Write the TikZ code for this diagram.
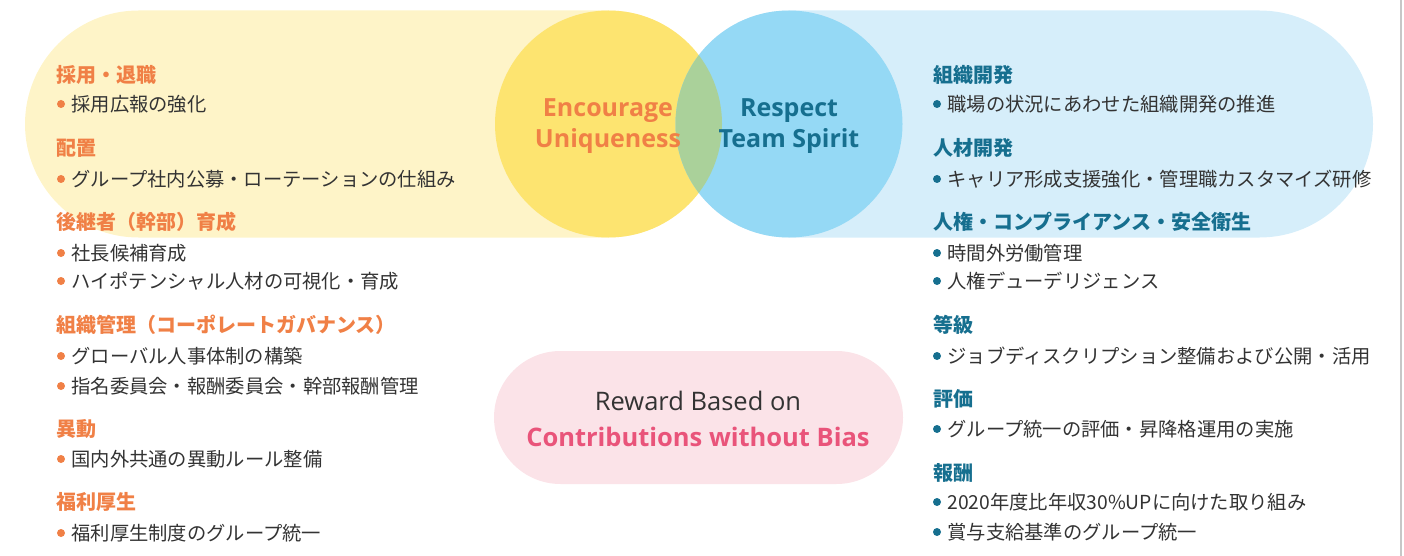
\documentclass[tikz,border=0pt]{standalone}
\usepackage{fontspec}
\setmainfont{Noto Sans CJK JP}
\newfontfamily\opensans{Open Sans}
\usepackage{xcolor}
\definecolor{paleyellow}{RGB}{254,244,200}
\definecolor{sunyellow}{RGB}{253,228,112}
\definecolor{paleblue}{RGB}{214,238,250}
\definecolor{skyblue}{RGB}{149,217,245}
\definecolor{mixgreen}{RGB}{170,209,154}
\definecolor{palepink}{RGB}{251,227,232}
\definecolor{neworange}{RGB}{240,128,70}
\definecolor{newblue}{RGB}{22,111,143}
\definecolor{newpink}{RGB}{233,84,122}
\definecolor{textgray}{RGB}{51,51,51}

\begin{document}
\begin{tikzpicture}[x=1pt, y=-1pt,
  head/.style={anchor=west, inner sep=0pt, text height=17.6pt, text depth=2.4pt, font=\fontsize{20}{24}\selectfont\bfseries},
  item/.style={anchor=west, inner sep=0pt, text height=17.2pt, text depth=2.4pt, font=\fontsize{19.3}{23}\selectfont, text=textgray},
  dot/.style={fill, circle, inner sep=0pt, minimum size=8pt},
  motto/.style={anchor=base, inner sep=0pt, font=\fontsize{25}{31}\selectfont\opensans\bfseries},
  reward/.style={anchor=base, inner sep=0pt, font=\fontsize{25.5}{36}\selectfont\opensans}]

\useasboundingbox (0,0) rectangle (1404,556);

%pills
\fill[paleyellow, rounded corners=113.5pt] (25,10.5) rectangle (722,237.5);
\fill[paleblue, rounded corners=113.5pt] (675.5,10.5) rectangle (1373,237.5);
\fill[palepink, rounded corners=66.5pt] (494,351) rectangle (903,484);

%circles
\fill[sunyellow] (608.5,124) circle (113.5pt);
\fill[skyblue] (789,124) circle (113.5pt);
\begin{scope}
\clip (608.5,124) circle (113.5pt);
\fill[mixgreen] (789,124) circle (113.5pt);
\end{scope}

%frame line
\draw[black!22, line width=1.5pt] (1401,0) -- (1401,556);

%mottos
\node[motto, text=neworange] at (608,117)(mA1){Encourage};
\node[motto, text=neworange] at (608,148)(mA2){Uniqueness};
\node[motto, text=newblue] at (789,117)(mB1){Respect};
\node[motto, text=newblue] at (789,148)(mB2){Team Spirit};
\node[reward, text=textgray] at (698,410)(mC1){Reward Based on};
\node[reward, text=newpink] at (698,446)(mC2){\bfseries Contributions without Bias};

\color{neworange}

%left headings
\node[head] at (56,75)(hA1){採用・退職};
\node[head] at (56,148)(hA2){配置};
\node[head] at (56,222)(hA3){後継者（幹部）育成};
\node[head] at (56,325)(hA4){組織管理（コーポレートガバナンス）};
\node[head] at (56,429)(hA5){異動};
\node[head] at (56,502)(hA6){福利厚生};

%left items
\node[dot] at (61,104)(bA1){};
\node[item] (tA1) at ([xshift=6pt]bA1.east) {採用広報の強化};
\node[dot] at (61,179)(bA2){};
\node[item] (tA2) at ([xshift=6pt]bA2.east) {グループ社内公募・ローテーションの仕組み};
\node[dot] at (61,253)(bA3){};
\node[item] (tA3) at ([xshift=6pt]bA3.east) {社長候補育成};
\node[dot] at (61,281)(bA4){};
\node[item] (tA4) at ([xshift=6pt]bA4.east) {ハイポテンシャル人材の可視化・育成};
\node[dot] at (61,356)(bA5){};
\node[item] (tA5) at ([xshift=6pt]bA5.east) {グローバル人事体制の構築};
\node[dot] at (61,386)(bA6){};
\node[item] (tA6) at ([xshift=6pt]bA6.east) {指名委員会・報酬委員会・幹部報酬管理};
\node[dot] at (61,459)(bA7){};
\node[item] (tA7) at ([xshift=6pt]bA7.east) {国内外共通の異動ルール整備};
\node[dot] at (61,533)(bA8){};
\node[item] (tA8) at ([xshift=6pt]bA8.east) {福利厚生制度のグループ統一};

\color{newblue}

%right headings
\node[head] at (933,75)(hB1){組織開発};
\node[head] at (933,148)(hB2){人材開発};
\node[head] at (933,222)(hB3){人権・コンプライアンス・安全衛生};
\node[head] at (933,325)(hB4){等級};
\node[head] at (933,399)(hB5){評価};
\node[head] at (933,473)(hB6){報酬};

%right items
\node[dot] at (937,104)(bB1){};
\node[item] (tB1) at ([xshift=6pt]bB1.east) {職場の状況にあわせた組織開発の推進};
\node[dot] at (937,179)(bB2){};
\node[item] (tB2) at ([xshift=6pt]bB2.east) {キャリア形成支援強化・管理職カスタマイズ研修};
\node[dot] at (937,253)(bB3){};
\node[item] (tB3) at ([xshift=6pt]bB3.east) {時間外労働管理};
\node[dot] at (937,281)(bB4){};
\node[item] (tB4) at ([xshift=6pt]bB4.east) {人権デューデリジェンス};
\node[dot] at (937,356)(bB5){};
\node[item] (tB5) at ([xshift=6pt]bB5.east) {ジョブディスクリプション整備および公開・活用};
\node[dot] at (937,429)(bB6){};
\node[item] (tB6) at ([xshift=6pt]bB6.east) {グループ統一の評価・昇降格運用の実施};
\node[dot] at (937,502)(bB7){};
\node[item] (tB7) at ([xshift=6pt]bB7.east) {2020年度比年収30\%UPに向けた取り組み};
\node[dot] at (937,532)(bB8){};
\node[item] (tB8) at ([xshift=6pt]bB8.east) {賞与支給基準のグループ統一};

\end{tikzpicture}
\end{document}
